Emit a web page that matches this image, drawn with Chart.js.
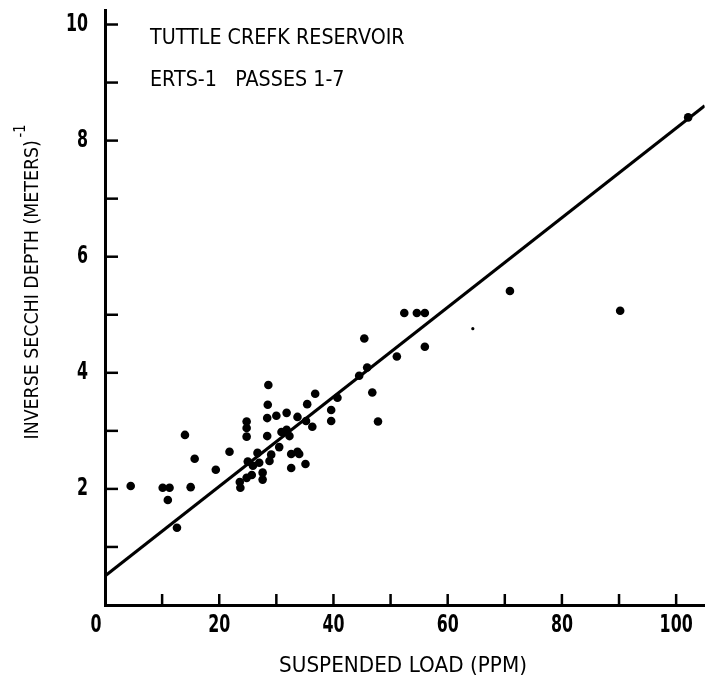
<!DOCTYPE html>
<html>
<head>
<meta charset="utf-8">
<script src="https://cdn.jsdelivr.net/npm/chart.js@4.4.1/dist/chart.umd.min.js"></script>
<style>
  html, body { margin: 0; padding: 0; background: #fff; }
  #wrap { width: 709px; height: 682px; }
</style>
</head>
<body>
<div id="wrap"><canvas id="secchiChart"></canvas></div>
<script>
// Данные
const suspendedLoad = [
    4.5, 10.1, 11.3, 11.0, 12.6, 14.0, 15.7, 15.0, 19.4, 21.8,
    24.8, 24.8, 24.8, 23.6, 23.7, 24.8, 25.0, 25.9, 25.7, 26.7,
    27.0, 27.6, 27.6, 28.6, 28.5, 28.4, 30.0, 31.8, 28.4, 30.5,
    29.1, 28.8, 30.9, 31.8, 32.3, 33.7, 32.6, 34.0, 32.6, 35.1,
    33.7, 35.4, 36.8, 36.3, 35.2, 39.6, 39.6, 40.7, 44.5, 45.9,
    46.8, 47.8, 45.4, 51.1, 52.4, 54.6, 56.0, 56.0, 70.9, 90.2,
    102.1
];
const inverseDepth = [
    2.05, 2.02, 2.02, 1.81, 1.33, 2.93, 2.52, 2.03, 2.33, 2.64,
    3.16, 3.05, 2.90, 2.12, 2.02, 2.19, 2.47, 2.40, 2.24, 2.62,
    2.45, 2.28, 2.16, 3.79, 3.45, 3.22, 3.26, 3.31, 2.91, 2.72,
    2.59, 2.48, 2.98, 3.02, 2.91, 2.64, 2.60, 2.60, 2.36, 2.43,
    3.24, 3.46, 3.64, 3.07, 3.17, 3.36, 3.17, 3.57, 3.95, 4.09,
    3.66, 3.16, 4.59, 4.28, 5.03, 5.03, 5.03, 4.45, 5.41, 5.07,
    8.40
];
// бледная точка
const faintLoad = [64.4];
const faintDepth = [4.76];

// линия регрессии
const fitLoad = [0, 105];
const fitDepth = [0.5, 8.6];

const xTickValues = [10, 20, 30, 40, 50, 60, 70, 80, 90, 100];
const yTickValues = [1, 2, 3, 4, 5, 6, 7, 8, 9, 10];
const xLabelValues = [0, 20, 40, 60, 80, 100];
const yLabelValues = [2, 4, 6, 8, 10];

const titleLines = ['TUTTLE CREFK RESERVOIR', 'ERTS-1   PASSES 1-7'];
const xTitle = 'SUSPENDED LOAD (PPM)';
const yTitle = 'INVERSE SECCHI DEPTH (METERS)';
const yTitleSup = '-1';

const FONT = '"DejaVu Sans", sans-serif';

const toPoints = (xs, ys) => xs.map((x, i) => ({ x: x, y: ys[i] }));

// текст со сжатием по горизонтали
function narrowText(ctx, text, x, y, align, sx) {
    ctx.save();
    ctx.translate(x, y);
    ctx.scale(sx, 1);
    ctx.textAlign = align;
    ctx.fillText(text, 0, 0);
    ctx.restore();
}

// Засечки внутрь и подписи
const paperPlugin = {
    id: 'paper',
    afterDraw(chart) {
        const ctx = chart.ctx;
        const xs = chart.scales.x;
        const ys = chart.scales.y;
        const area = chart.chartArea;

        ctx.save();
        ctx.strokeStyle = '#000';
        ctx.lineWidth = 2.5;
        yTickValues.forEach(v => {
            const py = ys.getPixelForValue(v);
            ctx.beginPath();
            ctx.moveTo(area.left, py);
            ctx.lineTo(area.left + 13, py);
            ctx.stroke();
        });
        xTickValues.forEach(v => {
            const px = xs.getPixelForValue(v);
            ctx.beginPath();
            ctx.moveTo(px, area.bottom);
            ctx.lineTo(px, area.bottom - 11);
            ctx.stroke();
        });

        ctx.fillStyle = '#000';
        ctx.textBaseline = 'middle';

        // подписи делений
        ctx.font = 'bold 24px ' + FONT;
        yLabelValues.forEach(v => {
            narrowText(ctx, String(v), area.left - 17, ys.getPixelForValue(v), 'right', 0.66);
        });
        xLabelValues.forEach(v => {
            const shift = v === 0 ? -9 : 0;
            narrowText(ctx, String(v), xs.getPixelForValue(v) + shift, area.bottom + 21, 'center', 0.66);
        });

        // заголовок внутри графика
        ctx.font = '22px ' + FONT;
        narrowText(ctx, titleLines[0], 150, 38, 'left', 0.87);
        narrowText(ctx, titleLines[1], 150, 80, 'left', 0.87);

        // подпись оси X
        ctx.font = '22px ' + FONT;
        narrowText(ctx, xTitle, 403, 666, 'center', 0.91);

        // подпись оси Y с показателем степени
        ctx.translate(33, 282);
        ctx.rotate(-Math.PI / 2);
        ctx.scale(0.87, 1);
        ctx.font = '20px ' + FONT;
        const w = ctx.measureText(yTitle).width;
        ctx.font = '15px ' + FONT;
        const ws = ctx.measureText(yTitleSup).width;
        const start = -(w + ws + 3) / 2;
        ctx.textAlign = 'left';
        ctx.font = '20px ' + FONT;
        ctx.fillText(yTitle, start, 0);
        ctx.font = '15px ' + FONT;
        ctx.fillText(yTitleSup, start + w + 3, -12);
        ctx.restore();
    }
};

const ctx = document.getElementById('secchiChart').getContext('2d');
new Chart(ctx, {
    type: 'scatter',
    data: {
        datasets: [
            {
                label: 'Измерения',
                data: toPoints(suspendedLoad, inverseDepth),
                backgroundColor: '#000',
                borderColor: '#000',
                pointRadius: 4.3,
                pointBorderWidth: 0
            },
            {
                label: 'Бледная',
                data: toPoints(faintLoad, faintDepth),
                backgroundColor: '#000',
                pointRadius: 1.6,
                pointBorderWidth: 0
            },
            {
                label: 'Регрессия',
                type: 'line',
                data: toPoints(fitLoad, fitDepth),
                borderColor: '#000',
                borderWidth: 3,
                pointRadius: 0,
                fill: false
            }
        ]
    },
    options: {
        responsive: true,
        maintainAspectRatio: false,
        animation: false,
        layout: { padding: { top: 10, right: 0, left: 0, bottom: 0 } },
        plugins: {
            legend: { display: false },
            tooltip: { enabled: false }
        },
        scales: {
            x: {
                type: 'linear',
                min: 0,
                max: 105,
                border: { color: '#000', width: 3 },
                grid: { display: false, drawTicks: false },
                ticks: { display: false, stepSize: 10 },
                afterFit(scale) { scale.height = 77; }
            },
            y: {
                type: 'linear',
                min: 0,
                max: 10.25,
                border: { color: '#000', width: 3 },
                grid: { display: false, drawTicks: false },
                ticks: { display: false, stepSize: 1 },
                afterFit(scale) { scale.width = 105; }
            }
        }
    },
    plugins: [paperPlugin]
});
</script>
</body>
</html>
